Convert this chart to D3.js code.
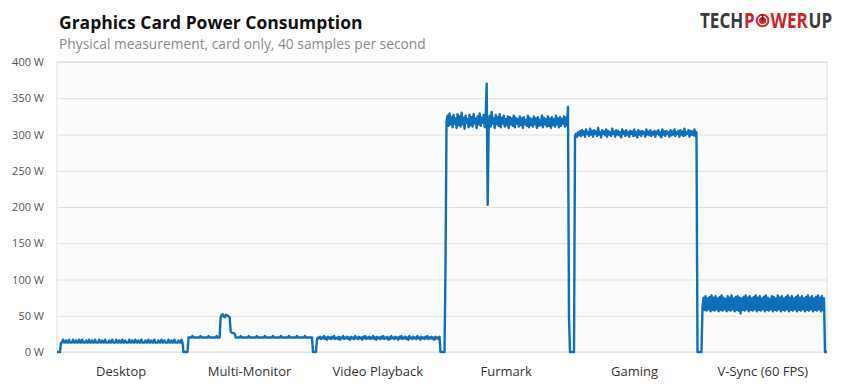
<!DOCTYPE html>
<html>
<head>
<meta charset="utf-8">
<script src="https://cdn.jsdelivr.net/npm/d3@7"></script>
<style>
  body { margin: 0; background: #fff; }
  svg { display: block; font-family: "Open Sans", sans-serif; }
</style>
</head>
<body>
<svg id="chart" width="841" height="387"></svg>
<script>
// categories of the test run, one band each
const categories = ["Desktop", "Multi-Monitor", "Video Playback", "Furmark", "Gaming", "V-Sync (60 FPS)"];
const yTicks = [0, 50, 100, 150, 200, 250, 300, 350, 400];

// watts, one sample per step, 128 samples per band
const desktop = [
  0,0,0,0,13,13,17,13,13,16,
  13,13,17,13,13,13,17,13,13,16,
  13,13,17,13,13,17,13,13,13,16,
  13,13,17,13,13,16,13,13,17,13,
  13,13,17,13,13,16,13,13,17,13,
  13,13,16,13,13,17,13,13,13,17,
  13,13,16,13,13,17,13,13,16,13,
  13,13,17,13,13,16,13,13,17,13,
  13,16,13,13,17,13,13,13,16,13,
  13,17,13,13,16,13,13,17,13,13,
  13,16,13,13,17,13,13,16,13,13,
  13,17,13,13,16,13,13,17,13,13,
  13,16,13,13,17,13,0,0
];
const multiMonitor = [
  0,0,0,20,20,20,20,22,20,20,
  20,20,20,20,20,22,20,20,20,20,
  20,20,20,22,20,20,20,20,20,20,
  20,22,20,20,20,48,51,52,49,48,
  51,51,50,49,48,28,27,26,26,25,
  20,20,20,20,20,22,20,20,20,20,
  20,20,20,22,20,20,20,20,20,20,
  20,22,20,20,20,20,20,20,20,22,
  20,20,20,20,20,20,20,22,20,20,
  20,20,20,20,20,22,20,20,20,20,
  20,20,20,22,20,20,20,20,20,20,
  20,22,20,20,20,20,20,20,20,22,
  20,20,20,20,20,20,20,0
];
const videoPlayback = [
  0,0,0,18,20,19,21,18,20,19,
  22,18,20,17,21,19,20,18,21,19,
  22,18,19,20,18,21,17,20,19,22,
  18,20,19,21,18,20,17,21,19,20,
  18,22,19,20,18,21,19,20,17,21,
  19,22,18,20,19,21,18,20,19,22,
  18,20,17,21,19,20,18,21,19,22,
  18,20,19,21,17,20,18,22,19,20,
  18,21,19,20,17,21,19,22,18,20,
  19,21,18,20,17,22,19,20,18,21,
  19,20,18,22,19,20,17,21,19,20,
  18,21,19,22,18,20,19,21,18,20,
  17,21,19,20,18,21,0,0
];
const furmark = [
  0,0,0,118,318,326,312,329,314,324,
  310,327,315,322,309,328,313,325,311,330,
  314,323,308,326,316,321,310,327,313,324,
  311,328,315,322,309,325,314,329,312,323,
  316,327,310,324,370,203,313,326,311,331,
  315,322,309,327,314,324,312,328,310,323,
  315,326,311,321,313,325,309,324,314,322,
  312,326,310,323,315,321,311,325,313,322,
  309,324,314,320,312,326,310,323,313,321,
  311,325,314,322,309,324,312,320,313,326,
  310,323,314,321,311,325,312,322,309,324,
  313,321,311,326,314,322,310,324,312,321,
  315,325,311,323,313,338,48,0
];
const gaming = [
  0,0,0,0,298,301,297,303,299,305,
  298,306,300,304,297,307,301,303,298,308,
  300,305,297,306,301,304,298,309,300,303,
  296,306,301,304,299,307,297,305,300,303,
  298,308,301,304,297,306,300,305,299,303,
  296,307,301,304,298,306,300,303,297,305,
  301,304,298,307,299,303,296,306,300,304,
  298,305,301,303,297,307,300,304,299,306,
  298,303,300,305,297,304,301,306,299,303,
  296,307,300,304,298,305,301,303,297,306,
  299,304,300,307,298,303,301,305,297,306,
  300,304,298,308,299,303,301,306,297,305,
  300,304,299,307,298,303,0,0
];
const vsync = [
  0,0,0,62,75,58,77,57,74,59,
  76,56,78,58,75,57,77,59,74,56,
  76,58,78,57,75,59,73,56,77,58,
  75,57,78,59,74,56,76,58,77,57,
  75,53,74,58,76,57,78,59,75,56,
  77,58,74,57,76,59,78,56,75,58,
  77,57,74,59,76,56,78,58,75,57,
  73,59,77,56,76,58,74,57,78,59,
  75,56,77,58,74,57,76,59,78,56,
  75,58,77,57,74,59,76,56,78,58,
  75,57,77,59,74,56,76,58,78,57,
  75,59,77,56,74,58,76,57,78,59,
  75,56,77,58,74,0,0,0
];

const trace = desktop.concat(multiMonitor, videoPlayback, furmark, gaming, vsync);

const plotLeft = 57, plotRight = 827, plotTop = 62, plotBottom = 352;
const svg = d3.select("#chart");

// titles
svg.append("text")
  .attr("x", 59).attr("y", 29)
  .attr("font-size", 17.5).attr("font-weight", "bold").attr("fill", "#111")
  .text("Graphics Card Power Consumption");
svg.append("text")
  .attr("x", 59).attr("y", 49)
  .attr("font-size", 13.8).attr("fill", "#8a8a8a")
  .text("Physical measurement, card only, 40 samples per second");

// logo: condensed by a horizontal scale, icon sits between "P" and "WER"
const logoX = 700, logoW = 133, iconW = 15;
const logo = svg.append("g");
const word = logo.append("g").attr("font-weight", "bold").attr("font-size", 21);
const logoParts = [
  { t: "TECH", c: "#3a3a3a" },
  { t: "P", c: "#c9252b" },
  { t: "WER", c: "#c9252b" },
  { t: "UP", c: "#3a3a3a" }
];
const partNodes = word.selectAll("text").data(logoParts).join("text")
  .attr("y", 0).attr("fill", d => d.c).text(d => d.t);
const widths = partNodes.nodes().map(n => n.getComputedTextLength());
const sx = (logoW - iconW) / (d3.sum(widths) + 4);
let cx = 0, iconX = 0;
partNodes.each(function (d, i) {
  d3.select(this).attr("x", cx);
  cx += widths[i] + 1;
  if (i === 1) { iconX = logoX + sx * cx; cx += iconW / sx; }
});
word.attr("transform", `translate(${logoX},28) scale(${sx},1)`);
const iconC = iconX + iconW / 2 - 0.5;
logo.append("circle").attr("cx", iconC).attr("cy", 20.5).attr("r", 6.8).attr("fill", "#d0272d");
logo.append("circle").attr("cx", iconC).attr("cy", 20.5).attr("r", 4.2)
  .attr("fill", "none").attr("stroke", "#fff").attr("stroke-width", 1.2);
logo.append("line").attr("x1", iconC).attr("x2", iconC).attr("y1", 14.5).attr("y2", 20.5)
  .attr("stroke", "#7a1014").attr("stroke-width", 1.6);

// scales
const x = d3.scaleLinear().domain([0, trace.length - 1]).range([plotLeft, plotRight]);
const y = d3.scaleLinear().domain([0, 400]).range([plotBottom, plotTop]);
const band = d3.scaleBand().domain(categories).range([plotLeft, plotRight]);

svg.append("rect")
  .attr("x", plotLeft).attr("y", plotTop)
  .attr("width", plotRight - plotLeft).attr("height", plotBottom - plotTop)
  .attr("fill", "#fcfcfc").attr("stroke", "#e2ded4").attr("stroke-width", 1);

const yAxis = svg.append("g")
  .attr("transform", `translate(${plotLeft},0)`)
  .call(d3.axisLeft(y).tickValues(yTicks).tickFormat(d => d + " W")
    .tickSize(-(plotRight - plotLeft)).tickPadding(13));
yAxis.select(".domain").remove();
yAxis.selectAll(".tick line").attr("stroke", "#e4e0d6");
yAxis.selectAll(".tick text")
  .attr("font-family", "Open Sans, sans-serif").attr("font-size", 11).attr("fill", "#555");

const xAxis = svg.append("g")
  .attr("transform", `translate(0,${plotBottom})`)
  .call(d3.axisBottom(band).tickSize(0).tickPadding(15));
xAxis.select(".domain").remove();
xAxis.selectAll(".tick text")
  .attr("font-family", "Open Sans, sans-serif").attr("font-size", 13).attr("fill", "#333");

// power trace
const line = d3.line()
  .x((d, i) => x(i))
  .y(d => y(d));

svg.append("path")
  .datum(trace)
  .attr("d", line)
  .attr("fill", "none")
  .attr("stroke", "#0e6fba")
  .attr("stroke-width", 2.4)
  .attr("stroke-linejoin", "round");
</script>
</body>
</html>
